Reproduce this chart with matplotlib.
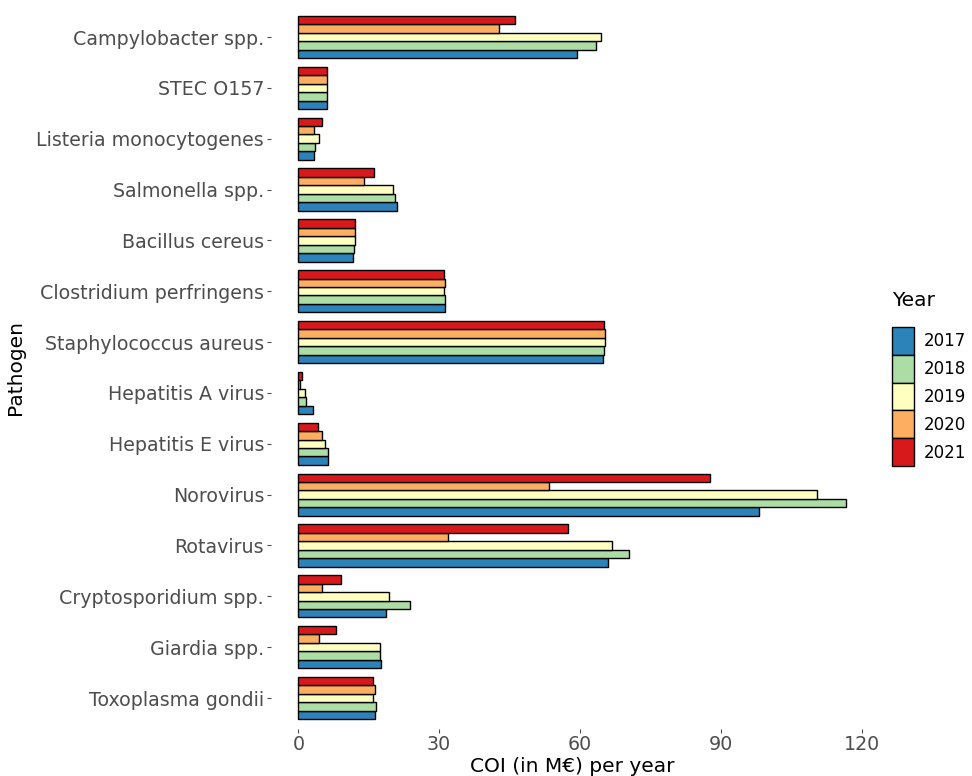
import numpy as np
import matplotlib
matplotlib.use("Agg")
import matplotlib.pyplot as plt
from matplotlib.patches import Patch

pathogens = ["Campylobacter spp.", "STEC O157", "Listeria monocytogenes", "Salmonella spp.",
             "Bacillus cereus", "Clostridium perfringens", "Staphylococcus aureus",
             "Hepatitis A virus", "Hepatitis E virus", "Norovirus", "Rotavirus",
             "Cryptosporidium spp.", "Giardia spp.", "Toxoplasma gondii"]
years = ["2017", "2018", "2019", "2020", "2021"]

coi_2017 = [59.4, 6.0, 3.4, 21.1, 11.7, 31.3, 65.0, 3.2, 6.4, 98.2, 65.9, 18.7, 17.6, 16.4]
coi_2018 = [63.4, 6.0, 3.5, 20.6, 11.8, 31.3, 65.1, 1.6, 6.4, 116.6, 70.4, 23.7, 17.4, 16.5]
coi_2019 = [64.4, 6.0, 4.5, 20.2, 12.0, 31.0, 65.3, 1.5, 5.7, 110.5, 66.9, 19.4, 17.4, 15.9]
coi_2020 = [42.8, 6.0, 3.4, 14.0, 12.1, 31.3, 65.3, 0.45, 5.0, 53.3, 31.8, 5.0, 4.5, 16.4]
coi_2021 = [46.2, 6.0, 5.0, 16.1, 12.1, 31.1, 65.2, 0.8, 4.1, 87.6, 57.4, 9.1, 8.1, 16.0]
series = [coi_2017, coi_2018, coi_2019, coi_2020, coi_2021]
colors = ["#2B83BA", "#ABDDA4", "#FFFFBF", "#FDAE61", "#D7191C"]

fig = plt.figure(figsize=(9.72, 7.76), dpi=100)
ax = fig.add_axes([0.2788, 0.0612, 0.898 - 0.2788, 0.9916 - 0.0612])

n = len(pathogens)
pos = np.arange(n)[::-1] + 1  # first pathogen on top
h = 0.166
for i, (vals, c) in enumerate(zip(series, colors)):
    off = (i - 2) * h
    ax.barh(pos + off, vals, height=h, color=c, edgecolor="black", linewidth=1.0)

ax.set_yticks(pos)
ax.set_yticklabels(pathogens)
ax.set_xticks([0, 30, 60, 90, 120])
ax.set_xlim(-5.83, 122.4)
ax.set_ylim(0.4, n + 0.6)
for s in ax.spines.values():
    s.set_visible(False)
ax.tick_params(axis="both", colors="#4D4D4D", labelsize=13.7, length=3, width=0.8, pad=2)
ax.set_ylabel("Pathogen", fontsize=14.5, labelpad=8)
ax.set_xlabel("COI (in M€) per year", fontsize=14.5, labelpad=2)

handles = [Patch(facecolor=c, edgecolor="black", linewidth=1.0, label=y) for y, c in zip(years, colors)]
leg = fig.legend(handles=handles, title="Year", loc="center left", bbox_to_anchor=(0.918, 0.512),
                 frameon=False, fontsize=12, title_fontsize=14.5, handlelength=1.3, handleheight=2.2,
                 labelspacing=0.0, handletextpad=0.6, borderaxespad=0, borderpad=0)
leg._legend_box.align = "left"
leg._legend_box.sep = 12

fig.savefig("out.png", dpi=100)
